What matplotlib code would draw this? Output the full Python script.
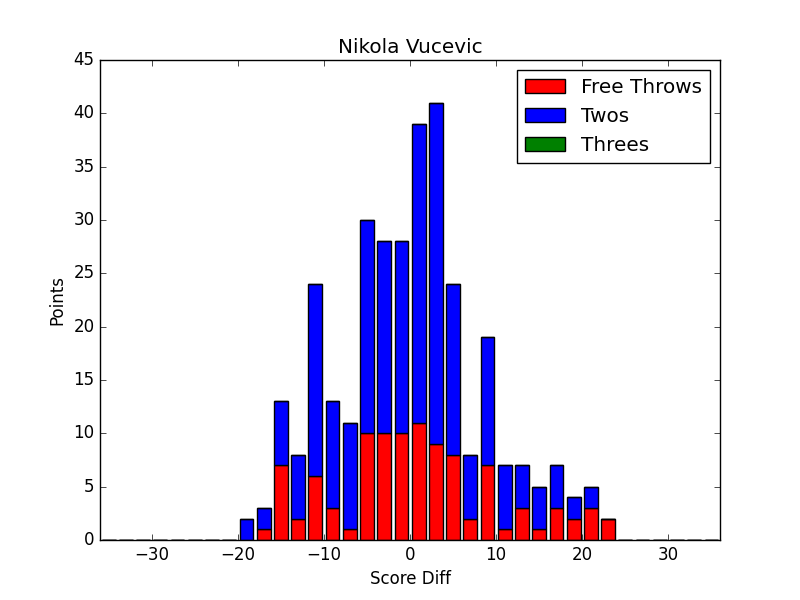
import numpy as np
import matplotlib
matplotlib.use("Agg")
import matplotlib.pyplot as plt

plt.style.use('classic')

# score-diff bin centres (bins of width 2)
score_diff = list(range(-35, 36, 2))

free_throws = [0, 0, 0, 0, 0, 0, 0, 0,
               0, 1, 7, 2, 6, 3, 1, 10, 10, 10, 11, 9, 8, 2, 7, 1, 3, 1, 3, 2, 3, 2,
               0, 0, 0, 0, 0, 0]
twos = [0, 0, 0, 0, 0, 0, 0, 0,
        2, 2, 6, 6, 18, 10, 10, 20, 18, 18, 28, 32, 16, 6, 12, 6, 4, 4, 4, 2, 2, 0,
        0, 0, 0, 0, 0, 0]
threes = [0] * len(score_diff)

x = np.array(score_diff)
ft = np.array(free_throws)
tw = np.array(twos)
th = np.array(threes)

fig = plt.figure(figsize=(8, 6), dpi=100)
ax = fig.add_subplot(111)

ax.bar(x, ft, width=1.6, align='center', color='r', label='Free Throws')
ax.bar(x, tw, width=1.6, align='center', bottom=ft, color='b', label='Twos')
ax.bar(x, th, width=1.6, align='center', bottom=ft + tw, color='g', label='Threes')

ax.set_xlim(-36, 36)
ax.set_ylim(0, 45)
ax.set_title('Nikola Vucevic')
ax.set_xlabel('Score Diff')
ax.set_ylabel('Points')
ax.legend(loc='upper right')

fig.savefig('out.png', dpi=100)
